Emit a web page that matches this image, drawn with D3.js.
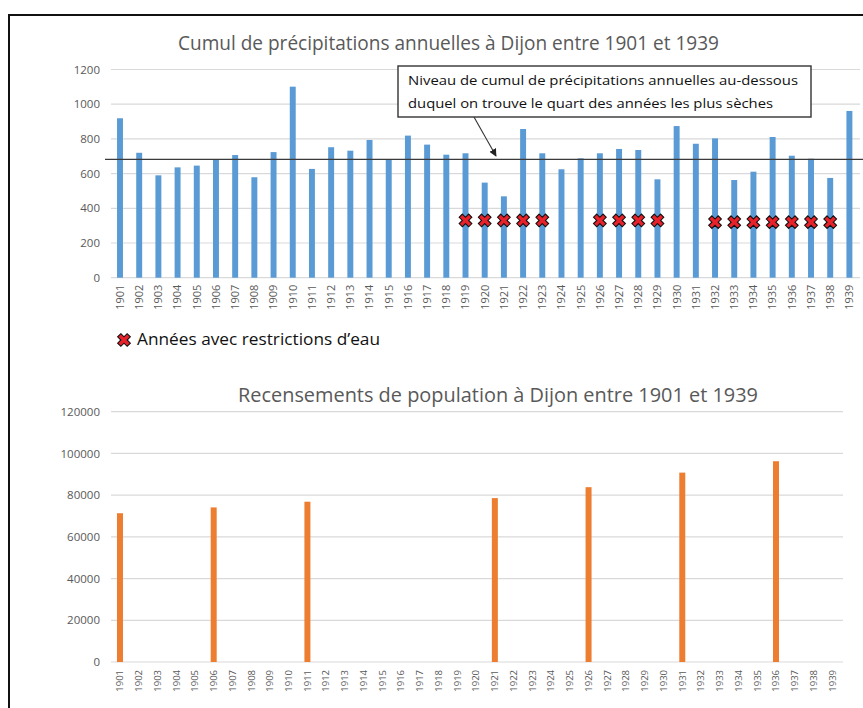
<!DOCTYPE html>
<html><head><meta charset="utf-8">
<script src="https://cdn.jsdelivr.net/npm/d3@7"></script>
<style>body{margin:0;background:#fff}svg{display:block}</style>
</head><body>
<svg id="c" width="863" height="708"></svg>
<script>
// ---------- DATA ----------
const years = ["1901","1902","1903","1904","1905","1906","1907","1908","1909","1910",
  "1911","1912","1913","1914","1915","1916","1917","1918","1919","1920",
  "1921","1922","1923","1924","1925","1926","1927","1928","1929","1930",
  "1931","1932","1933","1934","1935","1936","1937","1938","1939"];
const precipitation = [919,720,590,636,646,684,707,579,724,1101,627,752,732,
  794,682,819,767,709,717,548,469,857,717,625,688,717,
  742,736,567,874,772,803,563,611,811,703,686,575,961];
const quartileLevel = 682;
const restrictionYears = ["1919","1920","1921","1922","1923","1926","1927","1928","1929",
  "1932","1933","1934","1935","1936","1937","1938"];
const restrictionValues = [330,330,330,330,330,330,330,330,330,320,320,320,320,320,320,320];
const censusYears = ["1901","1906","1911","1921","1926","1931","1936"];
const censusValues = [71326,74113,76847,78578,83815,90789,96257];
const precipTicks = [0,200,400,600,800,1000,1200];
const popTicks = [0,20000,40000,60000,80000,100000,120000];
const title1 = "Cumul de précipitations annuelles à Dijon entre 1901 et 1939";
const title2 = "Recensements  de  population à Dijon entre 1901 et 1939";
const noteLines = ["Niveau de cumul de précipitations annuelles au-dessous",
  "duquel on trouve le quart des années les plus sèches"];
const legendLabel = "Années avec restrictions d’eau";

// ---------- DRAW ----------
const svg = d3.select("#c");
const FONT = "'Open Sans', 'Noto Sans', sans-serif";
const GRAY = "#595959", GRID = "#d9d9d9", BLUE = "#5b9bd5", ORANGE = "#ed7d31";

svg.append("rect").attr("x",9).attr("y",15).attr("width",900).attr("height",800)
  .attr("fill","none").attr("stroke","#111").attr("stroke-width",2);

function fitText(sel, w){ sel.attr("textLength", w).attr("lengthAdjust","spacingAndGlyphs"); }

// ===== Top chart =====
const x1 = d3.scaleBand().domain(years).range([110.4, 859]).paddingInner(0.69).paddingOuter(0.345);
const y1 = d3.scaleLinear().domain([0,1200]).range([277.7, 69.5]);

svg.append("text").attr("x",448.5).attr("y",50).attr("text-anchor","middle")
  .attr("font-family",FONT).attr("font-size",19.5).attr("fill",GRAY).text(title1)
  .call(fitText, 541);

svg.append("g").selectAll("line").data(precipTicks).join("line")
  .attr("x1",111).attr("x2",860).attr("y1",d=>y1(d)).attr("y2",d=>y1(d))
  .attr("stroke",GRID).attr("stroke-width",1.2);

const ya1 = svg.append("g").attr("transform","translate(104,0)")
  .call(d3.axisLeft(y1).tickValues(precipTicks).tickSize(0).tickPadding(4).tickFormat(d3.format("d")));
ya1.select(".domain").remove();
ya1.selectAll("text").attr("font-family",FONT).attr("font-size",11.5).attr("fill",GRAY);

const xa1 = svg.append("g").attr("transform",`translate(0,${y1(0)})`)
  .call(d3.axisBottom(x1).tickSize(0));
xa1.select(".domain").remove();
xa1.selectAll("text").attr("transform","rotate(-90)").attr("x",-7).attr("y",0).attr("dy","0.35em")
  .attr("text-anchor","end").attr("font-family",FONT).attr("font-size",11).attr("fill",GRAY);

svg.append("g").selectAll("rect").data(precipitation).join("rect")
  .attr("x",(d,i)=>x1(years[i])).attr("width",x1.bandwidth())
  .attr("y",d=>y1(d)).attr("height",d=>y1(0)-y1(d)).attr("fill",BLUE);

svg.append("line").attr("x1",105).attr("x2",863)
  .attr("y1",y1(quartileLevel)).attr("y2",y1(quartileLevel))
  .attr("stroke","#3a3a3a").attr("stroke-width",1.3);

const xSym = d3.symbol().type(d3.symbolCross).size(100);
svg.append("g").selectAll("path").data(restrictionYears).join("path")
  .attr("d",xSym)
  .attr("transform",(d,i)=>`translate(${x1(d)+x1.bandwidth()/2},${y1(restrictionValues[i])}) rotate(45)`)
  .attr("fill","#e8212a").attr("stroke","#111").attr("stroke-width",1.1);

// annotation
const defs = svg.append("defs");
defs.append("marker").attr("id","arr").attr("viewBox","0 0 10 10").attr("refX",9).attr("refY",5)
  .attr("markerWidth",7).attr("markerHeight",7).attr("orient","auto")
  .append("path").attr("d","M0,0 L10,5 L0,10 z").attr("fill","#222");
svg.append("line").attr("x1",474).attr("y1",117).attr("x2",496).attr("y2",156)
  .attr("stroke","#333").attr("stroke-width",1.1).attr("marker-end","url(#arr)");
svg.append("rect").attr("x",398).attr("y",66).attr("width",413).attr("height",51)
  .attr("fill","#fff").attr("stroke","#333").attr("stroke-width",1.4);
const noteW = [390, 365];
svg.append("g").selectAll("text").data(noteLines).join("text")
  .attr("x",408).attr("y",(d,i)=>85+i*23).attr("font-family",FONT).attr("font-size",13.5)
  .attr("fill","#111").text(d=>d).each(function(d,i){ d3.select(this).call(fitText, noteW[i]); });

// legend
svg.append("path").attr("d",xSym).attr("transform","translate(124,340) rotate(45)")
  .attr("fill","#e8212a").attr("stroke","#111").attr("stroke-width",1.1);
svg.append("text").attr("x",137).attr("y",345).attr("font-family",FONT).attr("font-size",15.5)
  .attr("fill","#111").text(legendLabel).call(fitText, 243);

// ===== Bottom chart =====
const x2 = d3.scaleBand().domain(years).range([110.6, 841.6]).paddingInner(0.68).paddingOuter(0.34);
const y2 = d3.scaleLinear().domain([0,120000]).range([662, 411.7]);

svg.append("text").attr("x",498).attr("y",402).attr("text-anchor","middle")
  .attr("font-family",FONT).attr("font-size",20).attr("fill",GRAY).text(title2)
  .call(fitText, 520);

svg.append("g").selectAll("line").data(popTicks).join("line")
  .attr("x1",111).attr("x2",843).attr("y1",d=>y2(d)).attr("y2",d=>y2(d))
  .attr("stroke",GRID).attr("stroke-width",1.2);

const ya2 = svg.append("g").attr("transform","translate(104,0)")
  .call(d3.axisLeft(y2).tickValues(popTicks).tickSize(0).tickPadding(4).tickFormat(d3.format("d")));
ya2.select(".domain").remove();
ya2.selectAll("text").attr("font-family",FONT).attr("font-size",11.5).attr("fill",GRAY);

const xa2 = svg.append("g").attr("transform",`translate(0,${y2(0)})`)
  .call(d3.axisBottom(x2).tickSize(0));
xa2.select(".domain").remove();
xa2.selectAll("text").attr("transform","rotate(-90)").attr("x",-8).attr("y",0).attr("dy","0.35em")
  .attr("text-anchor","end").attr("font-family",FONT).attr("font-size",9.5).attr("fill",GRAY);

svg.append("g").selectAll("rect").data(censusValues).join("rect")
  .attr("x",(d,i)=>x2(censusYears[i])).attr("width",x2.bandwidth())
  .attr("y",d=>y2(d)).attr("height",d=>y2(0)-y2(d)).attr("fill",ORANGE);
</script>
</body></html>
